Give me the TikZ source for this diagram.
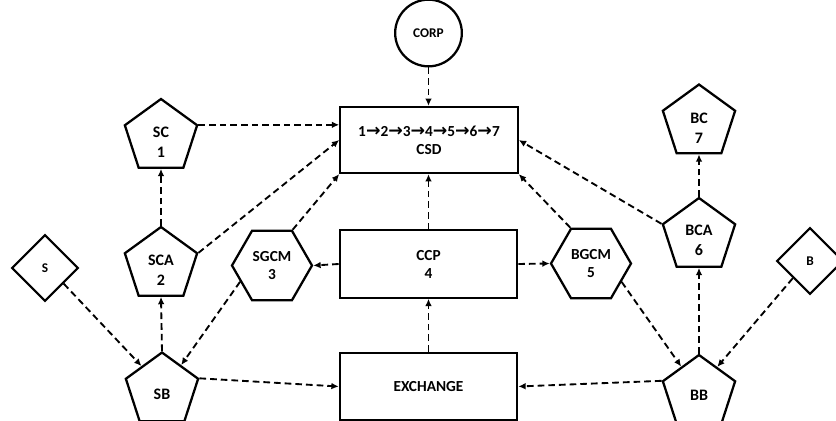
\documentclass[tikz,border=0pt]{standalone}
\usepackage{fontspec}
\setmainfont{Carlito}
\newfontfamily\arw{DejaVu Sans}
\newcommand{\seqarrow}{{\arw\bfseries\fontsize{13}{13}\selectfont →}}
\usetikzlibrary{shapes.geometric,arrows.meta,calc}

\begin{document}
\begin{tikzpicture}[x=0.75pt,y=-0.75pt,
  shp/.style={draw=black, line width=1.7pt, fill=white, inner sep=0pt},
  pent/.style={shp, regular polygon, regular polygon sides=5, minimum size=57pt},
  hexa/.style={shp, regular polygon, regular polygon sides=6, minimum size=60pt,
    font=\fontsize{11.5}{14}\selectfont\bfseries, align=center},
  box/.style={shp, rectangle, minimum width=133pt, minimum height=49.5pt,
    font=\fontsize{11.5}{13.5}\selectfont\bfseries, align=center},
  dia/.style={shp, diamond, minimum width=50pt, minimum height=50pt,
    font=\fontsize{10}{12}\selectfont\bfseries},
  circ/.style={shp, circle, minimum size=50pt, font=\fontsize{10}{12}\selectfont\bfseries},
  txt/.style={font=\fontsize{12}{15}\selectfont\bfseries, align=center, inner sep=0pt},
  flow/.style={-{Latex[length=5.5pt,width=5pt]}, line width=1.4pt,
    dash pattern=on 5pt off 3pt}
]
\useasboundingbox (0,0) rectangle (836,421);

% central column
\node[circ] (CORP) at (428.5,33) {CORP};
\node[box] (CSD) at (429,140) {1\seqarrow2\seqarrow3\seqarrow4\seqarrow5\seqarrow6\seqarrow7\\CSD};
\node[box, minimum height=50.5pt] (CCP) at (428.5,264) {CCP\\4};
\node[box, minimum height=50.5pt] (EX) at (428.5,386.5) {EXCHANGE};

% seller side
\node[pent, label={[txt,yshift=-4pt,name=SCt]center:{SC\\1}}] (SC) at (161,137) {};
\node[pent, label={[txt,yshift=-4pt,name=SCAt]center:{SCA\\2}}] (SCA) at (161,265) {};
\node[pent, label={[txt,yshift=-3pt,name=SBt]center:{SB}}] (SB) at (162,390.5) {};
\node[dia] (S) at (45,268) {S};
\node[hexa] (SGCM) at (272,265.5) {SGCM\\3};

% buyer side
\node[pent, label={[txt,yshift=-4pt,name=BCt]center:{BC\\7}}] (BC) at (699,122.5) {};
\node[pent, label={[txt,yshift=-3.5pt,name=BCAt]center:{BCA\\6}}] (BCA) at (699,236) {};
\node[pent, label={[txt,yshift=-2pt,name=BBt]center:{BB}}] (BB) at (699,393) {};
\node[dia] (B) at (810,261) {B};
\node[hexa] (BGCM) at (591,263.5) {BGCM\\5};

% flows into the depository
\draw[flow] (CORP.south) -- (CORP.south |- CSD.north);
\draw[flow] (SC.18) -- (SC.18 -| CSD.west);
\draw[flow] (SCA.18) -- (CSD.west);
\draw[flow] (SGCM.60) -- (CSD.south west);
\draw[flow] (CCP.north) -- (CCP.north |- CSD.south);
\draw[flow] (BGCM.120) -- (CSD.south east);
\draw[flow] (BCA.162) -- (CSD.east);

% clearing house
\draw[flow] (CCP.west) -- (SGCM.east);
\draw[flow] (CCP.east) -- (BGCM.west);
\draw[flow] (EX.north) -- (EX.north |- CCP.south);

% seller chain
\draw[flow] (SCA.north) -- (SC.south);
\draw[flow] (SB.north) -- (SCA.south);
\draw[flow] (S.-40) -- (SB.130);
\draw[flow] (SGCM.207) -- (SB.53);
\draw[flow] (SB.18) -- (EX.west);

% buyer chain
\draw[flow] (BCA.north) -- (BC.south);
\draw[flow] (BB.north) -- (BCA.south);
\draw[flow] (B.225) -- (BB.55);
\draw[flow] (BGCM.-31) -- (BB.124);
\draw[flow] (BB.162) -- (EX.east);
\end{tikzpicture}
\end{document}
